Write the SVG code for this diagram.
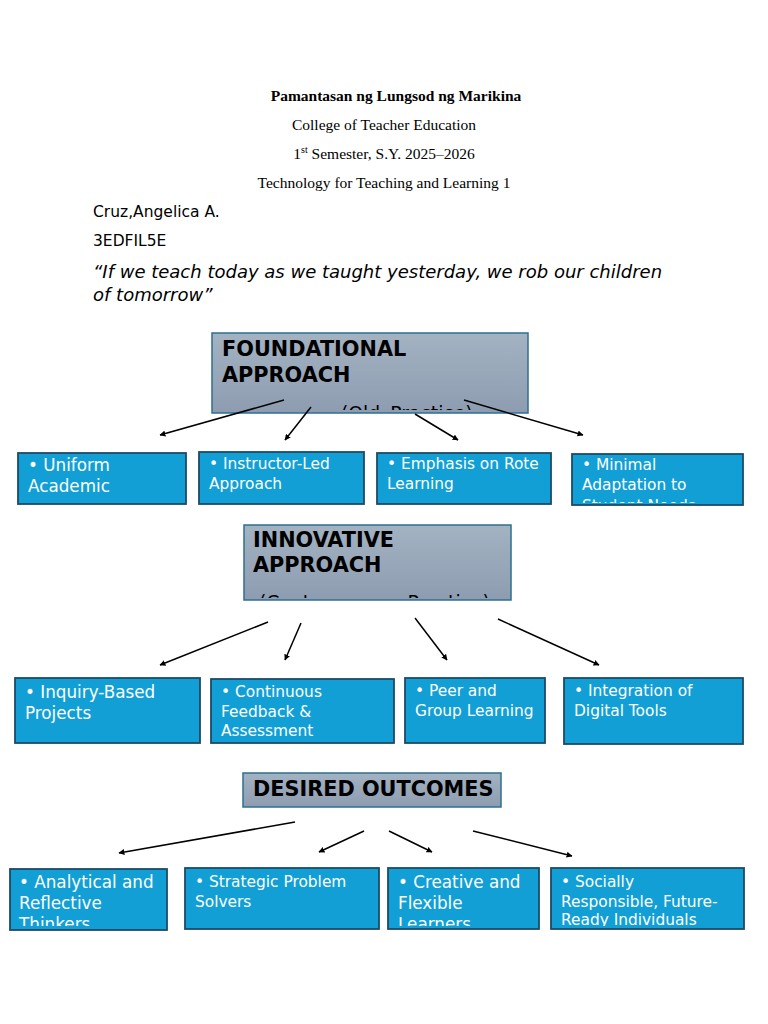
<svg xmlns="http://www.w3.org/2000/svg" width="768" height="1024" viewBox="0 0 768 1024">
<style>
.serif{font-family:"Liberation Serif","Times New Roman",serif;font-size:15.5px;fill:#000}
.sans{font-family:"DejaVu Sans",sans-serif;fill:#000}
.hdr{font-family:"DejaVu Sans",sans-serif;font-weight:bold;font-size:20.8px;fill:#000}
.sub{font-family:"DejaVu Sans",sans-serif;font-size:18.8px;fill:#000}
.gbox{fill:url(#gg);stroke:#2f6f8f;stroke-width:1.5}
.bbox{fill:#119fd6;stroke:#1d4a66;stroke-width:1.8}
.bt{font-family:"DejaVu Sans",sans-serif;fill:#fff}
.s{font-size:15.4px}
.l{font-size:16.8px}
.conn{stroke:#000;stroke-width:1.5;fill:none;marker-end:url(#ah)}
</style>
<defs>
<linearGradient id="gg" x1="0" y1="0" x2="0" y2="1">
<stop offset="0" stop-color="#a4b3c2"/>
<stop offset="1" stop-color="#8d9cb0"/>
</linearGradient>
<marker id="ah" viewBox="0 0 10 10" refX="9" refY="5" markerWidth="6" markerHeight="6" orient="auto" markerUnits="userSpaceOnUse">
<path d="M0,0 L10,5 L0,10 z" fill="#000"/>
</marker>
<clipPath id="cF"><rect x="212" y="333" width="316" height="77"/></clipPath>
<clipPath id="cI"><rect x="244" y="525" width="267" height="73"/></clipPath>
<clipPath id="c4"><rect x="572" y="454" width="171" height="49"/></clipPath>
<clipPath id="c9"><rect x="10" y="869" width="157" height="57"/></clipPath>
<clipPath id="c11"><rect x="388" y="868" width="151" height="58"/></clipPath>
<clipPath id="c12"><rect x="551" y="868" width="193" height="58"/></clipPath>
</defs>
<rect width="768" height="1024" fill="#fff"/>

<g id="header">
<text class="serif" x="396" y="101" text-anchor="middle" font-weight="bold">Pamantasan ng Lungsod ng Marikina</text>
<text class="serif" x="384" y="130" text-anchor="middle">College of Teacher Education</text>
<text class="serif" x="384" y="159" text-anchor="middle">1<tspan font-size="10" dy="-6">st</tspan><tspan dy="6"> Semester, S.Y. 2025–2026</tspan></text>
<text class="serif" x="384" y="188" text-anchor="middle">Technology for Teaching and Learning 1</text>
<text class="sans" x="93" y="217" font-size="15.5">Cruz,Angelica A.</text>
<text class="sans" x="93" y="246" font-size="15.5">3EDFIL5E</text>
<text class="sans" x="93" y="278" font-size="18" font-style="italic">“If we teach today as we taught yesterday, we rob our children</text>
<text class="sans" x="93" y="301" font-size="18" font-style="italic">of tomorrow”</text>
</g>

<g id="foundational">
<rect class="gbox" x="212" y="333" width="316" height="80"/>
<g clip-path="url(#cF)">
<text class="hdr" x="222" y="356">FOUNDATIONAL</text>
<text class="hdr" x="222" y="382">APPROACH</text>
<text class="sub" x="341" y="420" word-spacing="4">(Old Practice)</text>
</g>
</g>

<g id="f1"><rect class="bbox" x="18" y="453" width="168" height="51"/>
<text class="bt l" x="28" y="471">• Uniform</text><text class="bt l" x="28" y="492">Academic</text></g>
<g id="f2"><rect class="bbox" x="199" y="452" width="165" height="52"/>
<text class="bt s" x="209" y="469">• Instructor-Led</text><text class="bt s" x="209" y="489">Approach</text></g>
<g id="f3"><rect class="bbox" x="377" y="453" width="174" height="51"/>
<text class="bt s" x="387" y="469">• Emphasis on Rote</text><text class="bt s" x="387" y="489">Learning</text></g>
<g id="f4"><rect class="bbox" x="572" y="454" width="171" height="51"/>
<g clip-path="url(#c4)"><text class="bt s" x="582" y="470">• Minimal</text><text class="bt s" x="582" y="490">Adaptation to</text><text class="bt s" x="582" y="511">Student Needs</text></g></g>

<g id="innovative">
<rect class="gbox" x="244" y="525" width="267" height="75"/>
<g clip-path="url(#cI)">
<text class="hdr" x="253" y="547">INNOVATIVE</text>
<text class="hdr" x="253" y="572">APPROACH</text>
<text class="sub" x="259" y="608.5">(Contemporary Practice)</text>
</g>
</g>

<g id="i1"><rect class="bbox" x="15" y="678" width="185" height="65"/>
<text class="bt l" x="25" y="698">• Inquiry-Based</text><text class="bt l" x="25" y="719">Projects</text></g>
<g id="i2"><rect class="bbox" x="211" y="679" width="183" height="64"/>
<text class="bt s" x="221" y="697">• Continuous</text><text class="bt s" x="221" y="717">Feedback &amp;</text><text class="bt s" x="221" y="736">Assessment</text></g>
<g id="i3"><rect class="bbox" x="405" y="678" width="140" height="65"/>
<text class="bt s" x="415" y="696">• Peer and</text><text class="bt s" x="415" y="716">Group Learning</text></g>
<g id="i4"><rect class="bbox" x="564" y="678" width="179" height="66"/>
<text class="bt s" x="574" y="696">• Integration of</text><text class="bt s" x="574" y="716">Digital Tools</text></g>

<g id="outcomes">
<rect class="gbox" x="243" y="773" width="258" height="34"/>
<text class="hdr" x="253" y="796">DESIRED OUTCOMES</text>
</g>

<g id="o1"><rect class="bbox" x="10" y="869" width="157" height="61"/>
<g clip-path="url(#c9)"><text class="bt l" x="19" y="888">• Analytical and</text><text class="bt l" x="19" y="909">Reflective</text><text class="bt l" x="19" y="930">Thinkers</text></g></g>
<g id="o2"><rect class="bbox" x="185" y="868" width="194" height="61"/>
<text class="bt s" x="195" y="887">• Strategic Problem</text><text class="bt s" x="195" y="907">Solvers</text></g>
<g id="o3"><rect class="bbox" x="388" y="868" width="151" height="61"/>
<g clip-path="url(#c11)"><text class="bt l" x="398" y="888">• Creative and</text><text class="bt l" x="398" y="909">Flexible</text><text class="bt l" x="398" y="930">Learners</text></g></g>
<g id="o4"><rect class="bbox" x="551" y="868" width="193" height="61"/>
<g clip-path="url(#c12)"><text class="bt s" x="561" y="887">• Socially</text><text class="bt s" x="561" y="907">Responsible, Future-</text><text class="bt s" x="561" y="925">Ready Individuals</text></g></g>

<g id="connectors">
<line class="conn" x1="284" y1="400" x2="160" y2="435"/>
<line class="conn" x1="311" y1="407" x2="285" y2="440"/>
<line class="conn" x1="415" y1="414" x2="458" y2="440"/>
<line class="conn" x1="464" y1="400" x2="583" y2="435"/>
<line class="conn" x1="268" y1="622" x2="160" y2="665"/>
<line class="conn" x1="301" y1="623" x2="285" y2="660"/>
<line class="conn" x1="415" y1="618" x2="447" y2="660"/>
<line class="conn" x1="498" y1="619" x2="599" y2="665"/>
<line class="conn" x1="295" y1="822" x2="119" y2="853"/>
<line class="conn" x1="364" y1="831" x2="319" y2="852"/>
<line class="conn" x1="389" y1="831" x2="432" y2="852"/>
<line class="conn" x1="473" y1="831" x2="572" y2="856"/>
</g>
</svg>
